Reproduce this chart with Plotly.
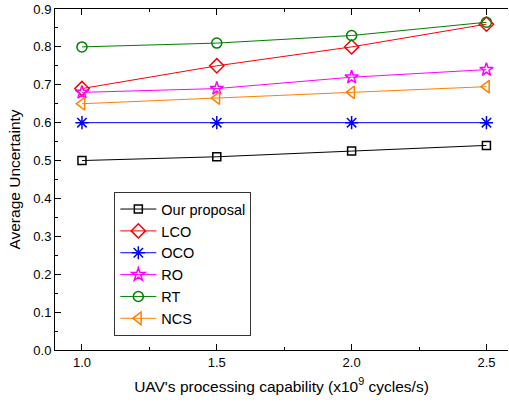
import plotly.graph_objects as go

x_vals = [1.0, 1.5, 2.0, 2.5]
series_names = ["Our proposal", "LCO", "OCO", "RO", "RT", "NCS"]
our_proposal = [0.50, 0.51, 0.525, 0.54]
lco = [0.69, 0.75, 0.80, 0.86]
oco = [0.60, 0.60, 0.60, 0.60]
ro = [0.68, 0.69, 0.72, 0.74]
rt = [0.80, 0.81, 0.83, 0.865]
ncs = [0.65, 0.665, 0.68, 0.695]
x_ticks = [1.0, 1.5, 2.0, 2.5]
x_tick_labels = ["1.0", "1.5", "2.0", "2.5"]
y_ticks = [0.0, 0.1, 0.2, 0.3, 0.4, 0.5, 0.6, 0.7, 0.8, 0.9]

values = [our_proposal, lco, oco, ro, rt, ncs]
colors = ["#000000", "#FF0000", "#0000FF", "#FF00FF", "#008000", "#FF8000"]
symbols = ["square-open", "diamond-open", "asterisk-open", "star-open", "circle-open", "triangle-left-open"]
sizes = [8, 11, 11, 10, 10, 11]

fig = go.Figure()
for name, v, c, s, sz in zip(series_names, values, colors, symbols, sizes):
    fig.add_trace(go.Scatter(
        x=x_vals, y=v, name=name, mode="lines+markers",
        line=dict(color=c, width=1),
        marker=dict(symbol=s, size=sz, color=c, line=dict(color=c, width=1.5)),
    ))

fig.update_layout(
    width=509, height=404,
    margin=dict(l=55, r=1, t=9, b=54),
    plot_bgcolor="white", paper_bgcolor="white",
    font=dict(family="Arial, Liberation Sans, sans-serif", size=13, color="black"),
    legend=dict(
        x=0.131, y=0.463, xanchor="left", yanchor="top",
        bgcolor="white", bordercolor="#333333", borderwidth=1,
        font=dict(size=14.5), tracegroupgap=0, itemwidth=36,
    ),
    showlegend=True,
)
fig.update_xaxes(
    range=[0.9, 2.58], tickvals=x_ticks, ticktext=x_tick_labels,
    showgrid=False, zeroline=False, showline=True, linecolor="black", linewidth=1,
    mirror="allticks", ticks="inside", ticklen=6, tickcolor="black",
    minor=dict(dtick=0.25, tick0=0, ticks="inside", ticklen=3, tickcolor="black"),
    title=dict(text="UAV's processing capability (x10<sup>9</sup> cycles/s)", font=dict(size=15.5), standoff=12),
)
fig.update_yaxes(
    range=[0, 0.9], tickvals=y_ticks, tickformat=".1f",
    showgrid=False, zeroline=False, showline=True, linecolor="black", linewidth=1,
    ticks="inside", ticklen=6, tickcolor="black",
    minor=dict(dtick=0.05, ticks="inside", ticklen=3, tickcolor="black"),
    title=dict(text="Average Uncertainty", font=dict(size=15.5), standoff=8),
)

fig.write_html("out.html")
